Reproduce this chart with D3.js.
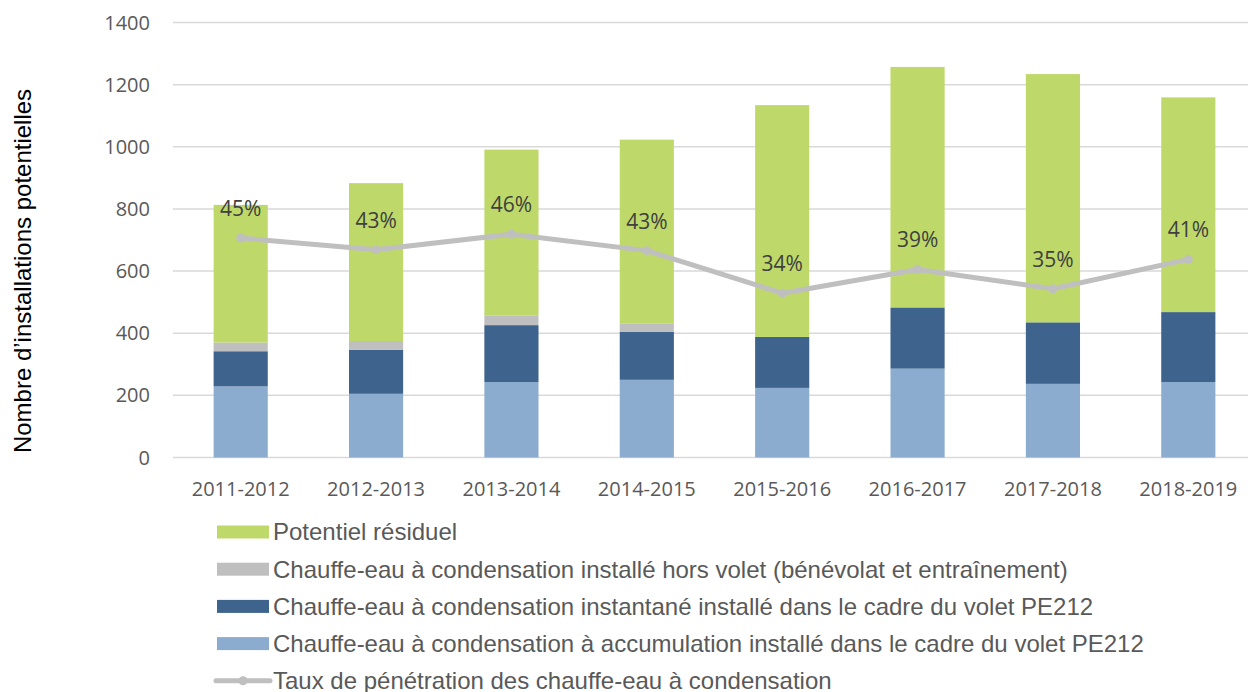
<!DOCTYPE html>
<html lang="fr">
<head>
<meta charset="UTF-8">
<title>Taux de pénétration des chauffe-eau à condensation</title>
<script src="https://cdnjs.cloudflare.com/ajax/libs/d3/7.8.5/d3.min.js"></script>
<style>
    body { margin: 0; background: #ffffff; }
    svg { display: block; }
    .tick-label { font-family: 'Open Sans', sans-serif; font-size: 20px; fill: #595959; }
    .pct-label { font-family: 'Open Sans', sans-serif; font-size: 21px; fill: #404040; }
    .axis-title { font-family: 'Liberation Sans', Arial, sans-serif; font-size: 24px; fill: #000; }
    .legend-text { font-family: 'Liberation Sans', Arial, sans-serif; font-size: 24px; fill: #595959; }
</style>
</head>
<body>
<div id="chart"></div>
<script>
// data
const years = ["2011-2012", "2012-2013", "2013-2014", "2014-2015", "2015-2016", "2016-2017", "2017-2018", "2018-2019"];
const accumulation = [229, 205, 243, 250, 224, 286, 237, 243];
const instantane = [113, 142, 183, 154, 164, 197, 198, 225];
const horsVolet = [28, 28, 30, 28, 0, 0, 0, 0];
const residuel = [443, 508, 535, 591, 746, 774, 799, 691];
const taux = [0.454, 0.430, 0.462, 0.428, 0.340, 0.389, 0.349, 0.410];
const yTicks = [0, 200, 400, 600, 800, 1000, 1200, 1400];

const seriesKeys = ["accumulation", "instantane", "horsVolet", "residuel"];
const seriesColors = {
    accumulation: "#8bacce",
    instantane: "#3e638c",
    horsVolet: "#bfbfbf",
    residuel: "#bed96a"
};
const legendItems = [
    { key: "residuel", label: "Potentiel résiduel" },
    { key: "horsVolet", label: "Chauffe-eau à condensation installé hors volet (bénévolat et entraînement)" },
    { key: "instantane", label: "Chauffe-eau à condensation instantané installé dans le cadre du volet PE212" },
    { key: "accumulation", label: "Chauffe-eau à condensation à accumulation installé dans le cadre du volet PE212" },
    { key: "line", label: "Taux de pénétration des chauffe-eau à condensation" }
];

const rows = years.map((yr, i) => ({
    year: yr,
    accumulation: accumulation[i],
    instantane: instantane[i],
    horsVolet: horsVolet[i],
    residuel: residuel[i],
    taux: taux[i]
}));

const W = 1248, H = 692;
const svg = d3.select("#chart").append("svg").attr("width", W).attr("height", H);

const x = d3.scaleBand().domain(years).range([173, 1256]).paddingInner(0.6).paddingOuter(0.3);
const y = d3.scaleLinear().domain([0, 1400]).range([457.5, 22.5]);
const y2 = d3.scaleLinear().domain([0, 0.9]).range([457.5, 22.5]);

// gridlines
svg.append("g").selectAll("line")
    .data(yTicks)
    .enter().append("line")
    .attr("x1", 173).attr("x2", W)
    .attr("y1", d => y(d)).attr("y2", d => y(d))
    .attr("stroke", "#d9d9d9").attr("stroke-width", 1.5);

// y tick labels
svg.append("g").selectAll("text")
    .data(yTicks)
    .enter().append("text")
    .attr("class", "tick-label")
    .attr("x", 150).attr("y", d => y(d))
    .attr("dy", "0.35em")
    .attr("text-anchor", "end")
    .text(d => d);

// x labels
svg.append("g").selectAll("text")
    .data(years)
    .enter().append("text")
    .attr("class", "tick-label")
    .attr("x", d => x(d) + x.bandwidth() / 2)
    .attr("y", 496)
    .attr("text-anchor", "middle")
    .text(d => d);

// y axis title
svg.append("text")
    .attr("class", "axis-title")
    .attr("transform", "translate(31,271) rotate(-90)")
    .attr("text-anchor", "middle")
    .text("Nombre d’installations potentielles");

// stacked bars
const stacked = d3.stack().keys(seriesKeys)(rows);
svg.append("g").selectAll("g")
    .data(stacked)
    .enter().append("g")
    .attr("fill", d => seriesColors[d.key])
    .selectAll("rect")
    .data(d => d)
    .enter().append("rect")
    .attr("x", d => x(d.data.year))
    .attr("width", x.bandwidth())
    .attr("y", d => y(d[1]))
    .attr("height", d => y(d[0]) - y(d[1]));

// penetration line
const line = d3.line()
    .x(d => x(d.year) + x.bandwidth() / 2)
    .y(d => y2(d.taux));
svg.append("path")
    .datum(rows)
    .attr("d", line)
    .attr("fill", "none")
    .attr("stroke", "#bfbfbf")
    .attr("stroke-width", 5)
    .attr("stroke-linejoin", "round");
svg.append("g").selectAll("circle")
    .data(rows)
    .enter().append("circle")
    .attr("cx", d => x(d.year) + x.bandwidth() / 2)
    .attr("cy", d => y2(d.taux))
    .attr("r", 4.5)
    .attr("fill", "#bfbfbf");

// percent labels
svg.append("g").selectAll("text")
    .data(rows)
    .enter().append("text")
    .attr("class", "pct-label")
    .attr("x", d => x(d.year) + x.bandwidth() / 2)
    .attr("y", d => y2(d.taux) - 22)
    .attr("text-anchor", "middle")
    .text(d => Math.round(d.taux * 100) + "%");

// legend
const legend = svg.append("g").selectAll("g")
    .data(legendItems)
    .enter().append("g")
    .attr("transform", (d, i) => `translate(0,${532 + i * 37.2})`);

legend.filter(d => d.key !== "line")
    .append("rect")
    .attr("x", 217).attr("y", -6.5)
    .attr("width", 52).attr("height", 13)
    .attr("fill", d => seriesColors[d.key]);

const lineLegend = legend.filter(d => d.key === "line");
lineLegend.append("line")
    .attr("x1", 216).attr("x2", 270)
    .attr("y1", 0).attr("y2", 0)
    .attr("stroke", "#bfbfbf").attr("stroke-width", 5)
    .attr("stroke-linecap", "round");
lineLegend.append("circle")
    .attr("cx", 243).attr("cy", 0).attr("r", 4.5)
    .attr("fill", "#bfbfbf");

legend.append("text")
    .attr("class", "legend-text")
    .attr("x", 273).attr("y", 0)
    .attr("dy", "0.35em")
    .text(d => d.label);
</script>
</body>
</html>
